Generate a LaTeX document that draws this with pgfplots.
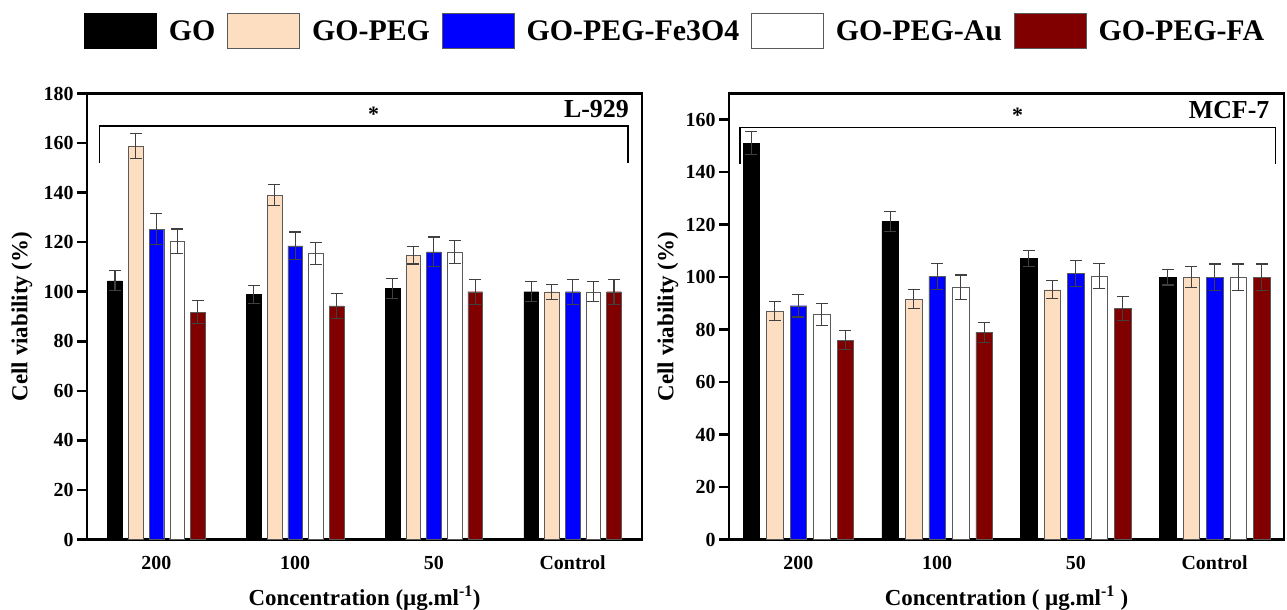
\documentclass[border=0pt]{standalone}
\usepackage{pgfplots}
\pgfplotsset{compat=1.18}
\usepackage{pgfplotstable}
\usepackage{fontspec}
\setmainfont{Liberation Serif}
\definecolor{peach}{RGB}{253,222,192}
\definecolor{darkred}{RGB}{128,0,0}
\definecolor{edge}{RGB}{90,90,90}

\pgfplotstableread{
x go goe peg pege fe fee au aue fa fae
0 104.4 4.0 158.9 5.0 125.3 6.2 120.3 5.0 91.8 4.5
1 98.8 3.7 139.0 4.2 118.5 5.6 115.5 4.4 94.3 5.0
2 101.3 4.2 114.8 3.6 116.1 6.0 116.1 4.7 100.0 5.0
3 100.0 4.0 100.0 3.0 100.0 5.0 100.0 4.0 100.0 5.0
}\ltab
\pgfplotstableread{
x go goe peg pege fe fee au aue fa fae
0 151.1 4.5 87.1 3.7 89.1 4.3 85.8 4.1 76.0 3.5
1 121.2 3.7 91.6 3.6 100.2 5.0 96.1 4.7 79.0 3.8
2 107.2 3.0 95.2 3.4 101.4 4.8 100.4 4.8 88.1 4.6
3 100.0 3.0 100.0 4.0 100.0 5.0 100.0 5.0 100.0 5.0
}\rtab

\pgfplotsset{
  panel/.style={
    width=555bp, height=446bp, scale only axis,
    xmin=-0.5, xmax=3.5, ymin=0,
    xtick={0,1,2,3}, xticklabels={200,100,50,Control},
    xtick style={draw=none},
    ytick style={line width=2.5bp, black},
    major tick length=10bp, tick align=outside,
    ytick pos=left, xtick pos=bottom,
    axis line style={line width=2.5bp},
    tick label style={font=\bfseries\fontsize{20}{20}\selectfont},
    /pgf/number format/assume math mode=true,
    xticklabel style={yshift=-3bp},
    label style={font=\bfseries\fontsize{23}{23}\selectfont},
    xlabel style={at={(axis description cs:0.5,0)}, anchor=center, yshift=-59bp},
    ylabel style={at={(axis description cs:0,0.5)}, anchor=center, rotate=0},
    ybar,
    error bars/y dir=both, error bars/y explicit,
    error bars/error bar style={line width=1.1bp, black!75},
    error bars/error mark options={rotate=90, mark size=6bp, line width=1.1bp, black!75},
    legend image code/.code={\draw[#1, line width=1bp] (0bp,-17.5bp) rectangle (72bp,17.5bp); \path (84bp,0bp);},
  },
}

\begin{document}
\begin{tikzpicture}
\useasboundingbox (0,0) rectangle (1287bp,610bp);
% ---------- left panel ----------
\begin{axis}[panel, at={(87bp,70.5bp)}, anchor=south west,
  ymax=180, ytick={0,20,...,180},
  bar width=14.7bp,
  xlabel={Concentration (µg.ml\textsuperscript{-1})},
  ylabel={Cell viability (\%)}, ylabel style={yshift=65bp},
  legend columns=5,
  legend style={at={(axis description cs:-0.0054,1.139)}, anchor=west, draw=none, fill=none,
    font=\bfseries\fontsize{30}{30}\selectfont, inner sep=0pt, column sep=0bp,
    nodes={inner sep=0pt, anchor=west},
    /tikz/every even column/.append style={column sep=12bp}},
]
\addplot[fill=black, draw=black, bar shift=-41.4bp] table[x=x, y=go, y error=goe]{\ltab};
\addlegendentry{GO}
\addplot[fill=peach, draw=edge, bar shift=-20.7bp] table[x=x, y=peg, y error=pege]{\ltab};
\addlegendentry{GO-PEG}
\addplot[fill=blue, draw=edge, bar shift=0bp] table[x=x, y=fe, y error=fee]{\ltab};
\addlegendentry{GO-PEG-Fe3O4}
\addplot[fill=white, draw=edge, bar shift=20.7bp] table[x=x, y=au, y error=aue]{\ltab};
\addlegendentry{GO-PEG-Au}
\addplot[fill=darkred, draw=edge, bar shift=41.4bp] table[x=x, y=fa, y error=fae]{\ltab};
\addlegendentry{GO-PEG-FA}
\draw[line width=1.6bp] (axis cs:-0.41,151.9) -- (axis cs:-0.41,166.9) -- (axis cs:3.40,166.9) -- (axis cs:3.40,151.9);
\node[font=\bfseries\fontsize{22}{22}\selectfont] at (axis cs:1.565,171.5) {*};
\node[anchor=east, font=\bfseries\fontsize{26}{26}\selectfont] at (axis cs:3.43,173.7) {L-929};
\end{axis}
% ---------- right panel ----------
\begin{axis}[panel, at={(729bp,70.5bp)}, anchor=south west,
  ymax=170, ytick={0,20,...,160},
  bar width=16.5bp,
  xlabel={Concentration ( µg.ml\textsuperscript{-1} )},
  ylabel={Cell viability (\%)}, ylabel style={yshift=61bp},
]
\addplot[fill=black, draw=black, bar shift=-47bp] table[x=x, y=go, y error=goe]{\rtab};
\addplot[fill=peach, draw=edge, bar shift=-23.5bp] table[x=x, y=peg, y error=pege]{\rtab};
\addplot[fill=blue, draw=edge, bar shift=0bp] table[x=x, y=fe, y error=fee]{\rtab};
\addplot[fill=white, draw=edge, bar shift=23.5bp] table[x=x, y=au, y error=aue]{\rtab};
\addplot[fill=darkred, draw=edge, bar shift=47bp] table[x=x, y=fa, y error=fae]{\rtab};
\draw[line width=1.6bp] (axis cs:-0.42,143.2) -- (axis cs:-0.42,157.1) -- (axis cs:3.44,157.1) -- (axis cs:3.44,143.2);
\node[font=\bfseries\fontsize{22}{22}\selectfont] at (axis cs:1.58,161.8) {*};
\node[anchor=east, font=\bfseries\fontsize{26}{26}\selectfont] at (axis cs:3.42,163.8) {MCF-7};
\end{axis}
\end{tikzpicture}
\end{document}
